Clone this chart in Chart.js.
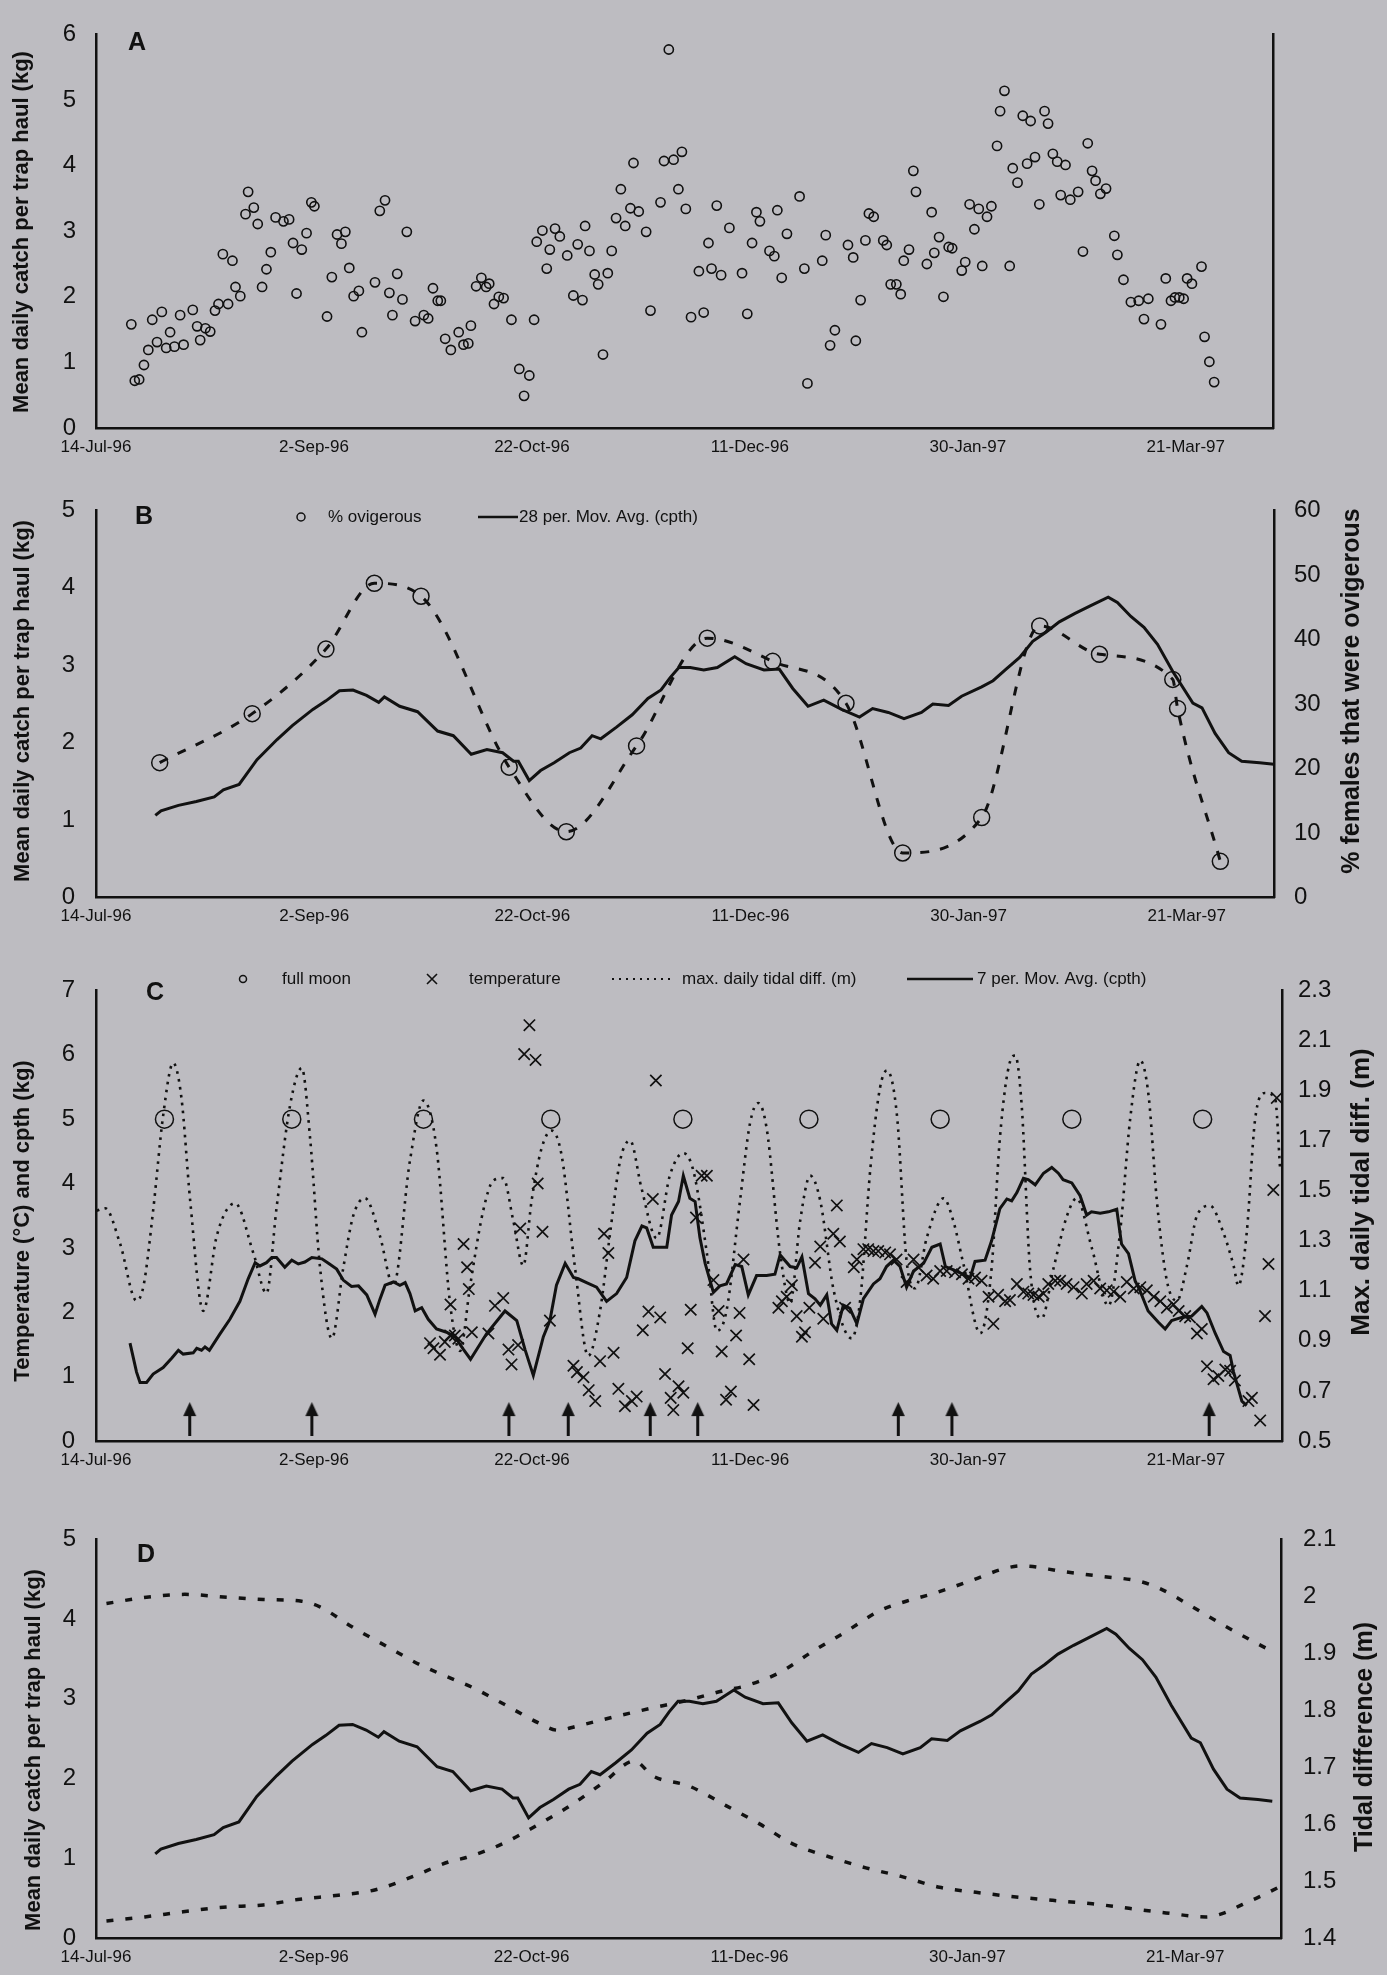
<!DOCTYPE html>
<html>
<head>
<meta charset="utf-8">
<script src="https://cdn.jsdelivr.net/npm/chart.js@4.4.1/dist/chart.umd.min.js"></script>
<style>
  body { margin: 0; background: #bdbcc1; }
  #wrap { position: relative; width: 1387px; height: 1975px; }
  canvas { position: absolute; left: 0; }
</style>
</head>
<body>
<div id="wrap">
  <canvas id="chA" style="top:0px"></canvas>
  <canvas id="chB" style="top:475px"></canvas>
  <canvas id="chC" style="top:955px"></canvas>
  <canvas id="chD" style="top:1495px"></canvas>
</div>
<script>
// x axis: days since 14-Jul-96
const dateTickDays = [0, 50, 100, 150, 200, 250];
const dateTickLabels = ['14-Jul-96', '2-Sep-96', '22-Oct-96', '11-Dec-96', '30-Jan-97', '21-Mar-97'];

// panel A: daily catch per trap haul (kg)
const catchDays = [8.1, 8.9, 9.9, 11.0, 12.0, 12.9, 14.0, 15.1, 16.1, 17.0, 18.0, 19.3, 20.1, 22.2, 23.2, 23.9, 25.1, 26.2, 27.3, 28.1,
  29.1, 30.3, 31.3, 32.0, 33.1, 34.3, 34.9, 36.2, 37.1, 38.1, 39.1, 40.1, 41.2, 43.0, 44.3, 45.2, 46.0, 47.2, 48.3, 49.4,
  50.1, 53.0, 54.1, 55.3, 56.3, 57.2, 58.1, 59.1, 60.3, 61.0, 64.0, 65.1, 66.3, 67.3, 68.0, 69.1, 70.3, 71.3, 73.2, 75.2,
  76.2, 77.3, 78.4, 79.1, 80.1, 81.4, 83.2, 84.3, 85.4, 86.0, 87.2, 88.4, 89.5, 90.2, 91.3, 92.4, 93.5, 95.3, 97.1, 98.2,
  99.4, 100.5, 101.1, 102.4, 103.4, 104.1, 105.3, 106.4, 108.1, 109.5, 110.5, 111.6, 112.2, 113.2, 114.4, 115.2, 116.3, 117.4, 118.3, 119.3,
  120.4, 121.4, 122.6, 123.3, 124.5, 126.2, 127.2, 129.5, 130.3, 131.4, 132.5, 133.6, 134.4, 135.3, 136.5, 138.3, 139.4, 140.5, 141.2, 142.4,
  143.4, 145.3, 148.2, 149.4, 150.5, 151.5, 152.3, 154.5, 155.6, 156.3, 157.3, 158.5, 161.4, 162.5, 163.2, 166.6, 167.4, 168.4, 169.5, 172.5,
  173.7, 174.3, 175.4, 176.5, 177.3, 178.4, 180.6, 181.4, 182.3, 183.6, 184.6, 185.3, 186.5, 187.5, 188.1, 190.6, 191.7, 192.3, 193.4, 194.4,
  195.6, 196.4, 198.6, 199.4, 200.4, 201.5, 202.5, 203.3, 204.4, 205.4, 206.7, 207.4, 208.4, 209.6, 210.3, 211.4, 212.6, 213.6, 214.4, 215.4,
  216.4, 217.6, 218.4, 219.5, 220.5, 221.3, 222.4, 223.5, 225.3, 226.4, 227.5, 228.5, 229.3, 230.4, 231.7, 233.6, 234.3, 235.7, 237.4, 239.2,
  240.4, 241.4, 244.3, 245.4, 246.6, 247.5, 248.5, 249.5, 250.3, 251.4, 253.6, 254.3, 255.4, 256.5];
const catchKg = [1.58, 0.72, 0.74, 0.96, 1.19, 1.65, 1.31, 1.77, 1.22, 1.46, 1.24, 1.72, 1.27, 1.80, 1.55, 1.34, 1.52, 1.47, 1.79, 1.89,
  2.65, 1.89, 2.55, 2.15, 2.01, 3.26, 3.60, 3.36, 3.11, 2.15, 2.42, 2.68, 3.21, 3.15, 3.18, 2.82, 2.05, 2.72, 2.97, 3.44,
  3.38, 1.70, 2.30, 2.95, 2.81, 2.99, 2.44, 2.01, 2.09, 1.46, 2.22, 3.31, 3.47, 2.06, 1.72, 2.35, 1.96, 2.99, 1.63, 1.72,
  1.67, 2.13, 1.94, 1.94, 1.36, 1.19, 1.46, 1.27, 1.29, 1.56, 2.16, 2.29, 2.15, 2.20, 1.89, 2.00, 1.98, 1.65, 0.90, 0.49,
  0.80, 1.65, 2.84, 3.01, 2.43, 2.72, 3.04, 2.92, 2.63, 2.02, 2.80, 1.95, 3.08, 2.70, 2.34, 2.19, 1.12, 2.36, 2.70, 3.20,
  3.64, 3.08, 3.35, 4.04, 3.30, 2.99, 1.79, 3.44, 4.07, 5.77, 4.09, 3.64, 4.21, 3.34, 1.69, 2.39, 1.76, 2.82, 2.43, 3.39,
  2.33, 3.05, 2.36, 1.74, 2.82, 3.29, 3.15, 2.70, 2.62, 3.32, 2.29, 2.96, 3.53, 2.43, 0.68, 2.55, 2.94, 1.26, 1.49, 2.79,
  2.60, 1.33, 1.95, 2.86, 3.27, 3.22, 2.86, 2.79, 2.19, 2.19, 2.04, 2.55, 2.72, 3.92, 3.60, 2.50, 3.29, 2.67, 2.91, 2.00,
  2.76, 2.74, 2.40, 2.53, 3.41, 3.03, 3.34, 2.47, 3.22, 3.38, 4.30, 4.83, 5.14, 2.47, 3.96, 3.74, 4.76, 4.03, 4.68, 4.13,
  3.41, 4.83, 4.64, 4.18, 4.06, 3.55, 4.01, 3.48, 3.60, 2.69, 4.34, 3.92, 3.77, 3.57, 3.65, 2.93, 2.64, 2.26, 1.92, 1.94,
  1.66, 1.97, 1.58, 2.28, 1.94, 1.99, 1.99, 1.97, 2.28, 2.20, 2.46, 1.39, 1.01, 0.70];

// panels B and D: 28 per. moving average of cpth (kg)
const ma28Days = [13.6, 14.9, 18.9, 23.0, 27.1, 29.2, 32.8, 36.9, 41.5, 45.0, 49.7, 52.7, 55.8, 58.9, 62.0, 64.8, 66.1, 69.6, 73.7, 78.3,
  81.9, 86.0, 89.6, 93.2, 95.7, 96.8, 99.3, 101.9, 105.0, 108.5, 111.1, 113.7, 115.7, 119.3, 122.9, 126.5, 129.5, 131.6, 133.6, 136.2,
  139.3, 142.4, 146.4, 149.0, 153.1, 156.6, 159.7, 163.2, 166.8, 170.9, 175.0, 178.0, 181.6, 185.2, 189.2, 191.8, 195.4, 198.4, 203.0, 205.6,
  208.6, 211.7, 214.7, 217.8, 220.8, 224.4, 228.0, 232.0, 234.1, 237.2, 240.2, 243.3, 246.8, 251.4, 253.5, 256.5, 259.6, 262.6, 266.7, 270.0];
const ma28Kg = [1.06, 1.12, 1.19, 1.24, 1.30, 1.39, 1.46, 1.78, 2.04, 2.22, 2.43, 2.54, 2.67, 2.68, 2.61, 2.52, 2.59, 2.47, 2.40, 2.15,
  2.09, 1.85, 1.91, 1.87, 1.76, 1.76, 1.51, 1.64, 1.74, 1.87, 1.93, 2.09, 2.05, 2.20, 2.36, 2.57, 2.68, 2.84, 2.97, 2.97,
  2.94, 2.97, 3.11, 3.02, 2.94, 2.95, 2.70, 2.47, 2.55, 2.43, 2.33, 2.44, 2.39, 2.31, 2.39, 2.50, 2.48, 2.60, 2.72, 2.80,
  2.95, 3.10, 3.31, 3.43, 3.56, 3.67, 3.77, 3.88, 3.81, 3.63, 3.49, 3.27, 2.92, 2.51, 2.45, 2.12, 1.87, 1.76, 1.74, 1.72];

// panel B: % females that were ovigerous
const ovigDays = [14.6, 35.8, 52.7, 63.8, 74.5, 94.7, 107.8, 123.9, 140.1, 155.1, 171.9, 184.9, 203.0, 216.3, 230.0, 246.8, 247.9, 257.7];
const ovigPct = [20.9, 28.5, 38.5, 48.7, 46.7, 20.2, 10.2, 23.5, 40.2, 36.6, 30.1, 6.9, 12.4, 42.1, 37.7, 33.8, 29.3, 5.6];

// panel C: 7 per. moving average of cpth (kg)
const ma7Days = [7.8, 9.3, 10.1, 11.6, 13.1, 15.4, 17.4, 18.9, 20.0, 22.3, 23.1, 24.2, 25.0, 26.0, 28.4, 30.7, 33.0, 34.9, 36.5, 37.6,
  39.1, 40.3, 41.4, 43.3, 44.9, 46.4, 47.9, 49.5, 51.8, 53.3, 55.2, 56.7, 58.6, 60.2, 62.1, 64.0, 65.1, 66.3, 68.2, 69.7,
  70.9, 72.0, 73.2, 74.7, 76.2, 78.1, 80.4, 82.3, 84.3, 85.9, 89.6, 93.8, 96.5, 98.4, 100.3, 102.6, 104.1, 105.6, 107.6, 109.5,
  110.6, 112.5, 114.8, 117.1, 119.4, 121.7, 123.6, 125.2, 126.3, 127.8, 130.9, 132.0, 133.6, 134.7, 136.2, 137.4, 138.5, 139.7, 141.6, 143.1,
  144.6, 146.6, 148.1, 149.6, 151.5, 153.8, 155.7, 156.9, 159.2, 160.7, 161.9, 163.4, 164.9, 166.1, 167.6, 168.7, 169.9, 171.4, 172.9, 174.5,
  176.0, 178.3, 179.8, 181.3, 182.9, 184.4, 185.9, 187.5, 189.8, 191.7, 193.6, 194.8, 196.7, 198.9, 200.5, 201.6, 203.9, 205.4, 207.3, 208.9,
  210.0, 211.2, 212.7, 213.8, 215.4, 217.3, 219.2, 220.7, 221.8, 223.8, 225.7, 227.2, 228.3, 230.3, 232.2, 234.1, 235.2, 236.8, 238.3, 239.4,
  241.3, 243.7, 245.2, 246.7, 249.0, 251.3, 253.6, 254.8, 256.7, 258.6, 260.1, 260.9, 262.8, 263.9];
const ma7Kg = [1.52, 1.07, 0.91, 0.91, 1.04, 1.14, 1.29, 1.41, 1.35, 1.37, 1.44, 1.41, 1.46, 1.41, 1.66, 1.89, 2.17, 2.52, 2.77, 2.72,
  2.77, 2.85, 2.85, 2.70, 2.81, 2.75, 2.78, 2.85, 2.83, 2.76, 2.67, 2.50, 2.40, 2.41, 2.27, 1.97, 2.20, 2.42, 2.47, 2.42,
  2.46, 2.29, 2.02, 2.07, 1.89, 1.74, 1.69, 1.62, 1.42, 1.27, 1.67, 2.02, 1.87, 1.42, 1.02, 1.62, 1.87, 2.42, 2.76, 2.54,
  2.52, 2.46, 2.39, 2.17, 2.29, 2.54, 3.11, 3.34, 3.31, 3.01, 3.01, 3.51, 3.72, 4.12, 3.77, 3.72, 3.16, 2.76, 2.31, 2.41,
  2.44, 2.74, 2.71, 2.27, 2.57, 2.57, 2.59, 2.89, 2.71, 2.69, 2.86, 2.29, 2.21, 2.11, 2.27, 1.82, 1.72, 2.11, 2.06, 1.82,
  2.21, 2.44, 2.52, 2.71, 2.81, 2.71, 2.39, 2.64, 2.76, 3.01, 3.06, 2.71, 2.66, 2.59, 2.54, 2.79, 2.81, 3.11, 3.61, 3.76,
  3.73, 3.86, 4.08, 4.06, 3.98, 4.16, 4.25, 4.16, 4.06, 4.01, 3.81, 3.51, 3.56, 3.54, 3.56, 3.60, 3.06, 2.91, 2.49, 2.34,
  2.02, 1.84, 1.74, 1.87, 1.92, 1.94, 2.09, 1.99, 1.67, 1.39, 1.33, 1.07, 0.62, 0.55];

// panel C: temperature (deg C)
const tempDays = [76.6, 77.4, 78.9, 80.0, 81.2, 81.3, 82.3, 83.1, 84.3, 85.1, 85.5, 86.2, 90.0, 91.5, 93.4, 94.6, 95.3, 96.8, 97.3, 98.2,
  99.4, 100.8, 101.3, 102.4, 104.1, 109.5, 110.3, 111.8, 113.0, 114.5, 115.6, 116.5, 117.5, 118.7, 119.8, 121.3, 122.9, 124.0, 125.4, 126.7,
  127.7, 128.4, 129.4, 130.5, 131.8, 132.4, 133.6, 134.7, 135.7, 136.4, 137.6, 138.9, 140.1, 141.6, 142.8, 143.5, 144.5, 145.6, 146.8, 147.6,
  148.5, 149.8, 150.8, 156.5, 157.3, 158.4, 159.6, 160.7, 161.9, 162.6, 163.6, 164.9, 166.1, 166.8, 169.1, 169.9, 170.6, 171.8, 173.8, 174.5,
  176.0, 177.1, 178.3, 179.4, 181.0, 182.1, 183.6, 185.9, 187.5, 188.6, 190.5, 192.0, 193.6, 195.1, 197.0, 198.6, 200.1, 201.6, 203.1, 204.7,
  205.8, 206.9, 208.5, 209.6, 211.2, 212.7, 213.8, 215.0, 216.2, 217.3, 218.4, 220.0, 221.1, 222.6, 224.2, 226.1, 227.2, 228.8, 230.3, 231.8,
  233.4, 234.9, 236.4, 238.0, 239.5, 241.0, 242.6, 244.1, 245.6, 247.1, 248.3, 249.8, 250.9, 252.5, 253.6, 254.8, 256.3, 257.4, 259.0, 260.1,
  261.2, 264.3, 265.1, 267.0, 268.1, 268.9, 270.0, 270.8];
const tempC = [1.52, 1.44, 1.34, 1.54, 1.64, 2.12, 1.64, 1.59, 3.06, 2.70, 2.36, 1.69, 1.67, 2.10, 2.22, 1.42, 1.19, 1.49, 3.30, 6.01,
  6.46, 5.92, 4.00, 3.25, 1.87, 1.17, 1.07, 0.99, 0.79, 0.62, 1.24, 3.22, 2.92, 1.37, 0.81, 0.54, 0.62, 0.69, 1.72, 2.01,
  3.76, 5.60, 1.92, 1.04, 0.67, 0.48, 0.85, 0.75, 1.44, 2.04, 3.47, 4.12, 4.12, 2.50, 2.02, 1.39, 0.64, 0.77, 1.64, 1.99,
  2.82, 1.27, 0.56, 2.07, 2.17, 2.24, 2.42, 1.94, 1.62, 1.69, 2.07, 2.77, 3.02, 1.90, 3.22, 3.66, 3.10, 2.07, 2.70, 2.82,
  2.98, 2.98, 2.95, 2.95, 2.93, 2.90, 2.82, 2.47, 2.82, 2.70, 2.57, 2.52, 2.64, 2.64, 2.62, 2.59, 2.52, 2.54, 2.49, 2.24,
  1.82, 2.27, 2.17, 2.19, 2.44, 2.32, 2.29, 2.27, 2.24, 2.29, 2.44, 2.49, 2.49, 2.44, 2.39, 2.29, 2.44, 2.49, 2.37, 2.34,
  2.32, 2.24, 2.47, 2.37, 2.39, 2.34, 2.24, 2.17, 2.07, 2.12, 2.02, 1.94, 1.92, 1.67, 1.74, 1.16, 0.96, 1.01, 1.11, 1.09,
  0.94, 0.62, 0.67, 0.32, 1.94, 2.75, 3.90, 5.33];

// panel C: max. daily tidal difference (m)
const tideDays = [0.2, 2.1, 5.5, 9.3, 10.9, 13.1, 15.4, 17.7, 19.6, 21.6, 24.6, 27.7, 31.9, 36.1, 39.1, 41.4, 44.5, 47.2, 49.1, 51.4,
  54.1, 56.7, 59.0, 61.7, 65.1, 68.2, 72.0, 75.1, 78.1, 81.2, 83.5, 85.8, 88.8, 91.1, 93.4, 95.7, 98.0, 99.9, 102.2, 104.5,
  106.8, 109.8, 112.9, 115.6, 117.9, 120.2, 122.5, 125.1, 128.6, 131.6, 134.7, 137.0, 140.1, 142.4, 144.6, 147.7, 150.0, 151.9, 153.8, 156.9,
  159.2, 161.5, 163.8, 166.1, 169.2, 173.3, 175.3, 177.6, 179.8, 181.4, 183.7, 185.9, 187.9, 190.5, 194.4, 196.6, 198.9, 202.8, 205.4, 207.3,
  209.7, 210.8, 212.3, 214.2, 216.9, 219.6, 222.7, 224.9, 228.4, 232.2, 234.9, 237.2, 239.5, 241.4, 243.3, 245.6, 247.9, 250.2, 252.5, 255.5,
  258.6, 260.9, 262.0, 263.9, 265.8, 268.1, 270.4, 271.6];
const tideM = [1.42, 1.43, 1.29, 1.06, 1.12, 1.42, 1.80, 2.01, 1.87, 1.46, 1.02, 1.32, 1.45, 1.25, 1.09, 1.43, 1.84, 1.99, 1.71, 1.19,
  0.91, 1.19, 1.40, 1.47, 1.32, 1.12, 1.62, 1.86, 1.67, 1.05, 0.86, 1.12, 1.42, 1.54, 1.55, 1.38, 1.20, 1.46, 1.67, 1.74,
  1.64, 1.20, 0.84, 1.02, 1.33, 1.62, 1.70, 1.51, 1.31, 1.56, 1.65, 1.58, 1.25, 0.94, 1.02, 1.46, 1.77, 1.85, 1.75, 1.25,
  1.05, 1.38, 1.56, 1.46, 1.10, 0.91, 1.07, 1.59, 1.91, 1.98, 1.80, 1.22, 1.11, 1.31, 1.47, 1.38, 1.21, 0.93, 1.19, 1.71,
  2.02, 2.04, 1.84, 1.19, 0.99, 1.19, 1.40, 1.47, 1.27, 1.04, 1.34, 1.79, 2.02, 1.88, 1.46, 1.14, 1.06, 1.20, 1.40, 1.44,
  1.33, 1.20, 1.12, 1.33, 1.78, 1.89, 1.87, 1.58];

// panel C: full moons and arrows
const moonDays = [15.7, 44.9, 75.1, 104.3, 134.6, 163.5, 193.6, 223.8, 253.8];
const arrowDays = [21.5, 49.5, 94.7, 108.3, 127.1, 138.0, 184.0, 196.3, 255.3];

// panel D: tidal difference envelopes (m)
const tideHiDays = [2.4, 11.6, 20.4, 30.0, 38.4, 47.2, 51.4, 59.0, 66.7, 74.3, 82.7, 86.4, 93.8, 101.8, 106.0, 110.3, 118.7, 127.1, 135.5, 143.9,
  149.2, 156.9, 164.5, 172.2, 179.8, 186.0, 192.0, 200.5, 208.9, 212.7, 221.9, 230.3, 239.4, 244.0, 251.7, 259.3, 267.0, 270.0];
const tideHiM = [1.987, 1.998, 2.003, 1.998, 1.994, 1.991, 1.981, 1.945, 1.912, 1.880, 1.852, 1.840, 1.810, 1.777, 1.765, 1.772, 1.788, 1.803, 1.817, 1.834,
  1.843, 1.866, 1.903, 1.938, 1.974, 1.991, 2.004, 2.026, 2.049, 2.053, 2.043, 2.035, 2.026, 2.014, 1.981, 1.947, 1.915, 1.903];
const tideLoDays = [2.4, 11.2, 20.0, 29.2, 38.4, 46.8, 55.6, 64.4, 72.8, 81.2, 85.0, 93.0, 101.1, 108.7, 116.4, 123.6, 127.8, 136.2, 144.6, 152.3,
  159.9, 168.4, 176.7, 184.8, 193.6, 202.0, 211.2, 219.6, 228.7, 237.1, 245.6, 254.8, 259.0, 263.2, 267.0, 271.2];
const tideLoM = [1.431, 1.438, 1.447, 1.455, 1.459, 1.469, 1.476, 1.486, 1.509, 1.535, 1.542, 1.565, 1.598, 1.632, 1.673, 1.711, 1.685, 1.667, 1.633, 1.601,
  1.566, 1.543, 1.524, 1.509, 1.490, 1.481, 1.473, 1.467, 1.461, 1.453, 1.445, 1.438, 1.445, 1.460, 1.473, 1.489];

// tick labels
const catchTicksA = ['0', '1', '2', '3', '4', '5', '6'];
const catchTicksB = ['0', '1', '2', '3', '4', '5'];
const pctTicks = ['0', '10', '20', '30', '40', '50', '60'];
const tempTicks = ['0', '1', '2', '3', '4', '5', '6', '7'];
const tideTicksC = ['0.5', '0.7', '0.9', '1.1', '1.3', '1.5', '1.7', '1.9', '2.1', '2.3'];
const tideTicksD = ['1.4', '1.5', '1.6', '1.7', '1.8', '1.9', '2', '2.1'];

const INK = '#111';
const FONT = '"Liberation Sans", Arial, sans-serif';
Chart.defaults.font.family = FONT;
Chart.defaults.color = INK;

const pts = (xs, ys) => xs.map((x, i) => ({ x, y: ys[i] }));

function xAxis(max) {
  return {
    type: 'linear', position: 'bottom', min: 0, max,
    afterBuildTicks: s => { s.ticks = dateTickDays.map(v => ({ value: v })); },
    afterFit: s => { s.height = 28; },
    ticks: { autoSkip: false, maxRotation: 0, padding: 9, font: { size: 17 },
             callback: (v, i) => dateTickLabels[i] },
    grid: { display: false, drawTicks: false },
    border: { display: true, color: INK, width: 2.5 }
  };
}

function yAxis(pos, labels, width, pad) {
  const vals = labels.map(Number);
  return {
    type: 'linear', position: pos, min: vals[0], max: vals[vals.length - 1],
    afterBuildTicks: s => { s.ticks = vals.map(v => ({ value: v })); },
    afterFit: s => { s.width = width; },
    ticks: { padding: pad, font: { size: 24 }, callback: (v, i) => labels[i] },
    grid: { display: false, drawTicks: false },
    border: { display: true, color: INK, width: 2.5 }
  };
}

// text, titles and legend keys
const decor = {
  id: 'decor',
  afterDraw(chart, args, opts) {
    const ctx = chart.ctx;
    (opts.items || []).forEach(it => {
      ctx.save();
      ctx.translate(it.x, it.y);
      if (it.rot) ctx.rotate(it.rot);
      ctx.fillStyle = INK;
      ctx.strokeStyle = INK;
      if (it.text) {
        ctx.font = it.font;
        ctx.textAlign = it.align || 'left';
        ctx.textBaseline = 'middle';
        ctx.fillText(it.text, 0, 0);
      } else if (it.sym === 'circle') {
        ctx.lineWidth = 1.5;
        ctx.beginPath(); ctx.arc(0, 0, it.r, 0, Math.PI * 2); ctx.stroke();
      } else if (it.sym === 'cross') {
        ctx.lineWidth = 1.6;
        ctx.beginPath();
        ctx.moveTo(-it.r, -it.r); ctx.lineTo(it.r, it.r);
        ctx.moveTo(it.r, -it.r); ctx.lineTo(-it.r, it.r);
        ctx.stroke();
      } else if (it.sym === 'line') {
        ctx.lineWidth = it.w;
        if (it.dash) ctx.setLineDash(it.dash);
        ctx.beginPath(); ctx.moveTo(0, 0); ctx.lineTo(it.len, 0); ctx.stroke();
      }
      ctx.restore();
    });
  }
};

const titleFont = 'bold 22px ' + FONT;
const letterFont = 'bold 25px ' + FONT;
const legFont = '17px ' + FONT;
const UP = -Math.PI / 2;

function arrowImage() {
  const c = document.createElement('canvas');
  c.width = 15; c.height = 34;
  const g = c.getContext('2d');
  g.fillStyle = INK;
  g.fillRect(6, 11, 3, 23);
  g.beginPath(); g.moveTo(7.5, 0); g.lineTo(14, 14); g.lineTo(1, 14); g.closePath(); g.fill();
  return c;
}

function makeChart(id, h, pad, scales, datasets, items) {
  const cv = document.getElementById(id);
  cv.width = 1387; cv.height = h;
  return new Chart(cv, {
    type: 'scatter',
    data: { datasets },
    options: {
      responsive: false, animation: false, devicePixelRatio: 1,
      layout: { padding: pad },
      scales,
      plugins: { legend: { display: false }, tooltip: { enabled: false }, decor: { items } }
    },
    plugins: [decor]
  });
}

const catchTitle = 'Mean daily catch per trap haul (kg)';

// Panel A
makeChart('chA', 475, { top: 27, bottom: 19, left: 0, right: 0 },
  {
    x: xAxis(270),
    y: yAxis('left', catchTicksA, 96, 20),
    y2: Object.assign(yAxis('right', catchTicksA, 114, 10), { ticks: { display: false } })
  },
  [{
    data: pts(catchDays, catchKg), pointStyle: 'circle', pointRadius: 4.6,
    borderColor: INK, backgroundColor: 'rgba(0,0,0,0)', borderWidth: 1.6
  }],
  [
    { text: 'A', x: 137, y: 43, font: letterFont, align: 'center' },
    { text: catchTitle, x: 22, y: 232, rot: UP, font: titleFont, align: 'center' }
  ]);

// Panel B
makeChart('chB', 480, { top: 23, bottom: 29.5, left: 0, right: 0 },
  {
    x: xAxis(270),
    y: yAxis('left', catchTicksB, 96, 21),
    y2: yAxis('right', pctTicks, 113, 20)
  },
  [
    { data: pts(ma28Days, ma28Kg), showLine: true, borderColor: INK, borderWidth: 3, pointRadius: 0 },
    { data: pts(ovigDays, ovigPct), yAxisID: 'y2', showLine: true, borderColor: INK, borderWidth: 3,
      borderDash: [9, 11], cubicInterpolationMode: 'monotone',
      pointStyle: 'circle', pointRadius: 8, pointBorderWidth: 1.5,
      pointBorderColor: INK, pointBackgroundColor: 'rgba(0,0,0,0)' }
  ],
  [
    { text: 'B', x: 144, y: 42, font: letterFont, align: 'center' },
    { text: catchTitle, x: 23, y: 226, rot: UP, font: titleFont, align: 'center' },
    { text: '% females that were ovigerous', x: 1352, y: 216, rot: UP, font: 'bold 25px ' + FONT, align: 'center' },
    { sym: 'circle', x: 301, y: 42, r: 4 },
    { text: '% ovigerous', x: 328, y: 42, font: legFont },
    { sym: 'line', x: 478, y: 42, len: 40, w: 2.5 },
    { text: '28 per. Mov. Avg. (cpth)', x: 519, y: 42, font: legFont }
  ]);

// Panel C
makeChart('chC', 540, { top: 21, bottom: 26, left: 0, right: 0 },
  {
    x: xAxis(272),
    y: yAxis('left', tempTicks, 96, 21),
    y2: yAxis('right', tideTicksC, 105, 16)
  },
  [
    { data: pts(ma7Days, ma7Kg), showLine: true, borderColor: INK, borderWidth: 3, pointRadius: 0 },
    { data: pts(tempDays, tempC), pointStyle: 'crossRot', pointRadius: 8, borderColor: INK, borderWidth: 1.7 },
    { data: moonDays.map(d => ({ x: d, y: 5 })), pointStyle: 'circle', pointRadius: 9,
      borderColor: INK, backgroundColor: 'rgba(0,0,0,0)', borderWidth: 1.5 },
    { data: arrowDays.map(d => ({ x: d, y: 0.34 })), pointStyle: arrowImage(), pointRadius: 10 },
    { data: pts(tideDays, tideM), yAxisID: 'y2', showLine: true, borderColor: INK, borderWidth: 2.6,
      borderDash: [2.6, 5.4], cubicInterpolationMode: 'monotone', pointRadius: 0 }
  ],
  [
    { text: 'C', x: 155, y: 38, font: letterFont, align: 'center' },
    { text: 'Temperature (°C) and cpth (kg)', x: 23, y: 266, rot: UP, font: titleFont, align: 'center' },
    { text: 'Max. daily tidal diff. (m)', x: 1362, y: 237, rot: UP, font: 'bold 26px ' + FONT, align: 'center' },
    { sym: 'circle', x: 243, y: 24, r: 3.5 },
    { text: 'full moon', x: 282, y: 24, font: legFont },
    { sym: 'cross', x: 432, y: 24, r: 5 },
    { text: 'temperature', x: 469, y: 24, font: legFont },
    { sym: 'line', x: 612, y: 24, len: 60, w: 2, dash: [2, 5] },
    { text: 'max. daily tidal diff. (m)', x: 682, y: 24, font: legFont },
    { sym: 'line', x: 907, y: 24, len: 66, w: 2.5 },
    { text: '7 per. Mov. Avg. (cpth)', x: 977, y: 24, font: legFont }
  ]);

// Panel D
makeChart('chD', 480, { top: 44, bottom: 2, left: 0, right: 0 },
  {
    x: xAxis(272),
    y: yAxis('left', catchTicksB, 96, 20),
    y2: yAxis('right', tideTicksD, 106, 22)
  },
  [
    { data: pts(ma28Days, ma28Kg), showLine: true, borderColor: INK, borderWidth: 3, pointRadius: 0 },
    { data: pts(tideHiDays, tideHiM), yAxisID: 'y2', showLine: true, borderColor: INK, borderWidth: 3.5,
      borderDash: [7, 12], cubicInterpolationMode: 'monotone', pointRadius: 0 },
    { data: pts(tideLoDays, tideLoM), yAxisID: 'y2', showLine: true, borderColor: INK, borderWidth: 3.5,
      borderDash: [7, 12], cubicInterpolationMode: 'monotone', pointRadius: 0 }
  ],
  [
    { text: 'D', x: 146, y: 60, font: letterFont, align: 'center' },
    { text: catchTitle, x: 34, y: 255, rot: UP, font: titleFont, align: 'center' },
    { text: 'Tidal difference (m)', x: 1365, y: 242, rot: UP, font: 'bold 25px ' + FONT, align: 'center' }
  ]);
</script>
</body>
</html>
